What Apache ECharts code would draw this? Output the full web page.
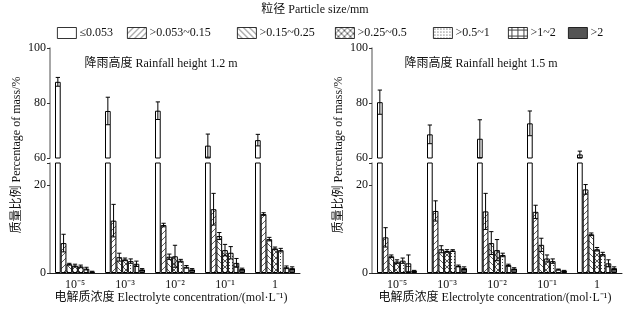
<!DOCTYPE html>
<html>
<head>
<meta charset="utf-8">
<script src="https://cdn.jsdelivr.net/npm/echarts@6.0.0/dist/echarts.min.js"></script>
<style>
  html, body { margin: 0; padding: 0; background: #fff; }
  #chart { width: 629px; height: 312px; }
</style>
</head>
<body>
<div id="chart"></div>
<script>
// 粒径分级质量比例 - 两种降雨高度

const categories = ['10⁻⁵', '10⁻³', '10⁻²', '10⁻¹', '1'];
const sizeClasses = ['≤0.053', '>0.053~0.15', '>0.15~0.25', '>0.25~0.5', '>0.5~1', '>1~2', '>2'];

// 降雨高度 1.2 m：每个粒径一行，列对应电解质浓度
const mean12 = [
  [87.7, 77.1, 77.2, 64.5, 66.5],
  [6.8, 11.9, 10.9, 14.5, 13.4],
  [2.0, 3.6, 3.7, 8.4, 7.7],
  [1.7, 3.1, 3.8, 5.2, 5.6],
  [1.5, 2.7, 2.8, 4.6, 5.2],
  [1.0, 2.1, 1.4, 2.3, 1.3],
  [0.3, 0.8, 0.8, 0.9, 1.1]
];
const sd12 = [
  [1.6, 5.0, 3.2, 4.2, 2.1],
  [2.0, 3.7, 0.4, 3.6, 0.3],
  [0.2, 0.9, 0.6, 0.8, 0.4],
  [0.3, 0.3, 2.5, 1.3, 0.3],
  [0.3, 0.5, 0.3, 1.4, 0.4],
  [0.3, 0.6, 0.3, 1.0, 0.3],
  [0.1, 0.2, 0.2, 0.2, 0.3]
];

// 降雨高度 1.5 m
const mean15 = [
  [80.3, 68.6, 67.0, 72.6, 61.3],
  [8.1, 14.1, 14.0, 13.9, 19.0],
  [3.8, 5.4, 6.8, 6.4, 8.8],
  [2.6, 5.0, 5.2, 3.3, 5.4],
  [2.8, 5.1, 4.1, 2.7, 4.3],
  [2.2, 1.6, 1.8, 0.8, 2.2],
  [0.5, 1.1, 1.0, 0.5, 1.1]
];
const sd15 = [
  [4.4, 3.4, 6.9, 4.5, 1.2],
  [2.2, 2.3, 4.1, 1.5, 1.1],
  [0.3, 0.8, 2.6, 1.5, 0.3],
  [0.4, 0.3, 2.4, 0.8, 0.4],
  [0.6, 0.2, 0.4, 0.5, 0.4],
  [1.9, 0.2, 0.2, 0.1, 0.8],
  [0.1, 0.3, 0.2, 0.1, 0.3]
];

const FONT = '"Liberation Serif", "Noto Sans CJK SC", serif';

// 生成填充图案
function makePattern(type) {
  const c = document.createElement('canvas');
  const s = type === 'dots' ? 3 : 6;
  c.width = s; c.height = s;
  const g = c.getContext('2d');
  g.fillStyle = '#fff';
  g.fillRect(0, 0, s, s);
  g.strokeStyle = '#333';
  g.fillStyle = '#444';
  g.lineWidth = 0.8;
  function slash() {
    g.beginPath();
    g.moveTo(-1, s + 1); g.lineTo(s + 1, -1);
    g.moveTo(-1, 1); g.lineTo(1, -1);
    g.moveTo(s - 1, s + 1); g.lineTo(s + 1, s - 1);
    g.stroke();
  }
  function back() {
    g.beginPath();
    g.moveTo(-1, -1); g.lineTo(s + 1, s + 1);
    g.moveTo(s - 1, -1); g.lineTo(s + 1, 1);
    g.moveTo(-1, s - 1); g.lineTo(1, s + 1);
    g.stroke();
  }
  if (type === 'slash') slash();
  if (type === 'back') back();
  if (type === 'cross') { slash(); back(); }
  if (type === 'dots') { g.fillRect(1, 1, 1, 1); }
  if (type === 'grid') {
    g.fillRect(0, 2, s, 1);
    g.fillRect(3, 0, 1, s);
  }
  return { image: c, repeat: 'repeat' };
}

const fills = [
  '#ffffff',
  makePattern('slash'),
  makePattern('back'),
  makePattern('cross'),
  makePattern('dots'),
  makePattern('grid'),
  '#555555'
];

const panels = [
  { mean: mean12, sd: sd12, left: 50 },
  { mean: mean15, sd: sd15, left: 372 }
];

const grids = [], xAxes = [], yAxes = [], series = [];

function renderErr(params, api) {
  const cat = api.value(0), m = api.value(1), sd = api.value(2), k = api.value(3);
  const band = api.size([1, 0])[0];
  const bw = band * 0.8 / 7;
  const c = api.coord([cat, m]);
  const x = c[0] - band * 0.4 + bw * (k + 0.5);
  const top = api.coord([cat, m + sd])[1];
  const bot = api.coord([cat, m - sd])[1];
  const cap = bw * 0.75;
  const st = { stroke: '#000', lineWidth: 1 };
  return {
    type: 'group',
    children: [
      { type: 'line', shape: { x1: x, y1: top, x2: x, y2: bot }, style: st },
      { type: 'line', shape: { x1: x - cap / 2, y1: top, x2: x + cap / 2, y2: top }, style: st },
      { type: 'line', shape: { x1: x - cap / 2, y1: bot, x2: x + cap / 2, y2: bot }, style: st }
    ]
  };
}

panels.forEach((p, pi) => {
  [0, 1].forEach(s => {
    const gi = pi * 2 + s;
    const upper = s === 0;
    grids.push({ left: p.left, width: 250, top: upper ? 48 : 163, height: 110 });
    xAxes.push({
      type: 'category', gridIndex: gi, data: categories,
      axisLine: { show: !upper, lineStyle: { color: '#222', width: 1 } },
      axisTick: { show: false },
      axisLabel: { show: !upper, color: '#111', fontFamily: FONT, fontSize: 12, margin: 6 }
    });
    yAxes.push({
      type: 'value', gridIndex: gi,
      min: upper ? 60 : 0, max: upper ? 100 : 25, interval: 20,
      splitLine: { show: false },
      axisLine: { show: true, lineStyle: { color: '#8a8a8a', width: 1.5 } },
      axisTick: { show: true, length: 3, lineStyle: { color: '#333' } },
      axisLabel: {
        color: '#111', fontFamily: FONT, fontSize: 12, margin: 4,
        formatter: v => (upper ? (v >= 60 ? v : '') : (v <= 20 ? v : ''))
      }
    });
    sizeClasses.forEach((name, k) => {
      const vals = p.mean[k].map(v => (upper && k > 0 ? '-' : v));
      series.push({
        name: name, type: 'bar', xAxisIndex: gi, yAxisIndex: gi,
        data: vals, barGap: 0, barCategoryGap: '20%',
        itemStyle: { color: fills[k], borderColor: '#000', borderWidth: 1 },
        clip: true, silent: true
      });
    });
    const errData = [];
    sizeClasses.forEach((name, k) => {
      if ((upper && k === 0) || (!upper && k > 0)) {
        p.mean[k].forEach((m, ci) => errData.push([ci, m, p.sd[k][ci], k]));
      }
    });
    series.push({
      type: 'custom', xAxisIndex: gi, yAxisIndex: gi,
      renderItem: renderErr, data: errData, encode: { x: 0, y: 1 }, z: 5, silent: true
    });
  });
});

// 图例：每项单独定位
const legendLefts = [52, 122, 232, 330, 428, 503, 563];
const legends = sizeClasses.map((name, k) => ({
  data: [name], left: legendLefts[k], top: 22,
  itemWidth: 19, itemHeight: 11, itemGap: 4,
  icon: 'rect', selectedMode: false,
  itemStyle: { borderWidth: 0.8 },
  textStyle: { fontFamily: FONT, fontSize: 12, color: '#111', padding: [0, 0, 0, -2] }
}));

function txt(x, y, text, extra) {
  return Object.assign({
    type: 'text', x: x, y: y,
    style: { text: text, font: '12px ' + FONT, fill: '#111', align: 'center', verticalAlign: 'middle' }
  }, extra || {});
}

const graphics = [
  txt(315, 10, '粒径 Particle size/mm'),
  txt(161, 64, '降雨高度 Rainfall height 1.2 m'),
  txt(481, 64, '降雨高度 Rainfall height 1.5 m'),
  txt(171, 298, '电解质浓度 Electrolyte concentration/(mol·L⁻¹)'),
  txt(495, 298, '电解质浓度 Electrolyte concentration/(mol·L⁻¹)'),
  txt(17, 155, '质量比例 Percentage of mass/%', { rotation: Math.PI / 2 }),
  txt(339, 155, '质量比例 Percentage of mass/%', { rotation: Math.PI / 2 })
];

const chart = echarts.init(document.getElementById('chart'));
chart.setOption({
  animation: false,
  backgroundColor: '#fff',
  legend: legends,
  grid: grids,
  xAxis: xAxes,
  yAxis: yAxes,
  series: series,
  graphic: graphics
});
</script>
</body>
</html>
